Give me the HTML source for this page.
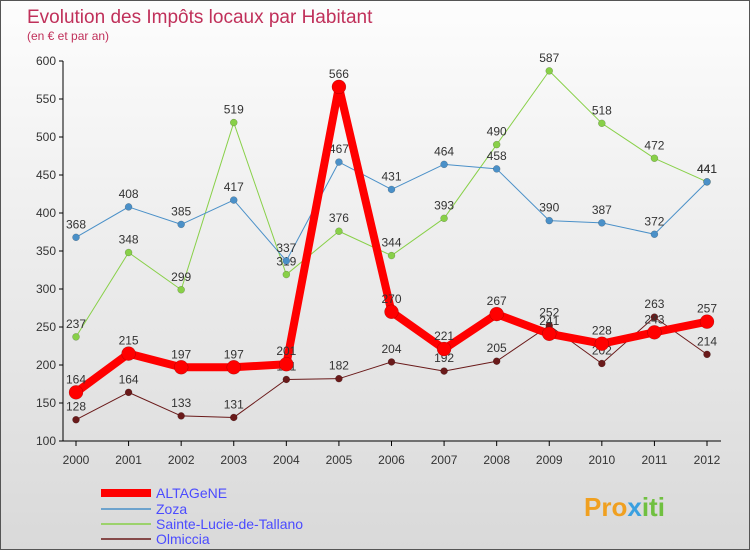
<!DOCTYPE html>
<html><head><meta charset="utf-8"><style>
body{margin:0;width:750px;height:550px;overflow:hidden;font-family:"Liberation Sans",sans-serif}
#wrap{position:relative;width:748px;height:548px;border:1px solid #555;background:linear-gradient(#fdfdfd,#d9d9d9)}
</style></head><body>
<div id="wrap">
<svg id="chart" width="748" height="548" xmlns="http://www.w3.org/2000/svg">
<text x="26" y="22" font-size="19" fill="#c0305a">Evolution des Impôts locaux par Habitant</text>
<text x="26" y="39" font-size="12" fill="#c0305a">(en € et par an)</text>
<g id="axes"></g><g id="series"></g>
<g font-size="14">
<line x1="100" y1="492" x2="150" y2="492" stroke="#f00" stroke-width="8"/>
<text x="155" y="497" fill="#4b4bff">ALTAGeNE</text>
<line x1="100" y1="508" x2="150" y2="508" stroke="#4a90c8" stroke-width="1.5"/>
<text x="155" y="513" fill="#4b4bff">Zoza</text>
<line x1="100" y1="523" x2="150" y2="523" stroke="#88d048" stroke-width="1.5"/>
<text x="155" y="528" fill="#4b4bff">Sainte-Lucie-de-Tallano</text>
<line x1="100" y1="538" x2="150" y2="538" stroke="#6a1a1a" stroke-width="1.5"/>
<text x="155" y="543" fill="#4b4bff">Olmiccia</text>
</g>
<text x="583" y="515" font-size="26" font-weight="bold" fill="#f0a020">Pro<tspan fill="#3aa0e0">x</tspan><tspan fill="#70c040">iti</tspan></text>
</svg></div>
<script>
const years=[2000,2001,2002,2003,2004,2005,2006,2007,2008,2009,2010,2011,2012];
const altagene=[164,215,197,197,201,566,270,221,267,241,228,243,257];
const zoza=[368,408,385,417,337,467,431,464,458,390,387,372,441];
const sainteLucie=[237,348,299,519,319,376,344,393,490,587,518,472,441];
const olmiccia=[128,164,133,131,181,182,204,192,205,252,202,263,214];
const yTicks=[100,150,200,250,300,350,400,450,500,550,600];
const NS="http://www.w3.org/2000/svg";
const x=i=>75+i*(706-75)/(years.length-1);
const y=v=>440-(v-100)*380/500;
function el(t,a,p){const e=document.createElementNS(NS,t);for(const k in a)e.setAttribute(k,a[k]);p.appendChild(e);return e;}
const ax=document.getElementById('axes');
const yl=el('line',{x1:62,y1:60,x2:62,y2:440,stroke:'#000'},ax);


const xl=el('line',{x1:62,y1:440,x2:720,y2:440,stroke:'#000'},ax);


yTicks.forEach(v=>{
 el('line',{x1:58,y1:y(v),x2:62,y2:y(v),stroke:'#000'},ax);
 const t=el('text',{x:55,y:y(v)+4,'text-anchor':'end','font-size':12,fill:'#333'},ax);
 t.textContent=v;
 
 
});
years.forEach((yr,i)=>{
 el('line',{x1:x(i),y1:440,x2:x(i),y2:445,stroke:'#000'},ax);
 const t=el('text',{x:x(i),y:463,'text-anchor':'middle','font-size':12,fill:'#333'},ax);
 t.textContent=yr;
 
 
});
const sg=document.getElementById('series');
function draw(vals,color,w,r,name){
 const g=el('g',{},sg);
 
 
 const p=el('polyline',{points:vals.map((v,i)=>x(i)+','+y(v)).join(' '),fill:'none',stroke:color,'stroke-width':w,'stroke-linejoin':'round'},g);
 
 
 vals.forEach((v,i)=>{
  const c=el('circle',{cx:x(i),cy:y(v),r:r,fill:color,stroke:'rgba(0,0,0,0.3)','stroke-width':0.5},g);
  
  
  const t=el('text',{x:x(i),y:y(v)-9,'text-anchor':'middle','font-size':12,fill:'#333'},g);
  t.textContent=v;
  
  
 });
}
draw(olmiccia,'#6a1a1a',1,3.5,'olmiccia');
draw(sainteLucie,'#88d048',1,3.5,'sainte-lucie');
draw(zoza,'#4a90c8',1,3.5,'zoza');
draw(altagene,'#f00',8,7,'altagene');
</script>
</body></html>
